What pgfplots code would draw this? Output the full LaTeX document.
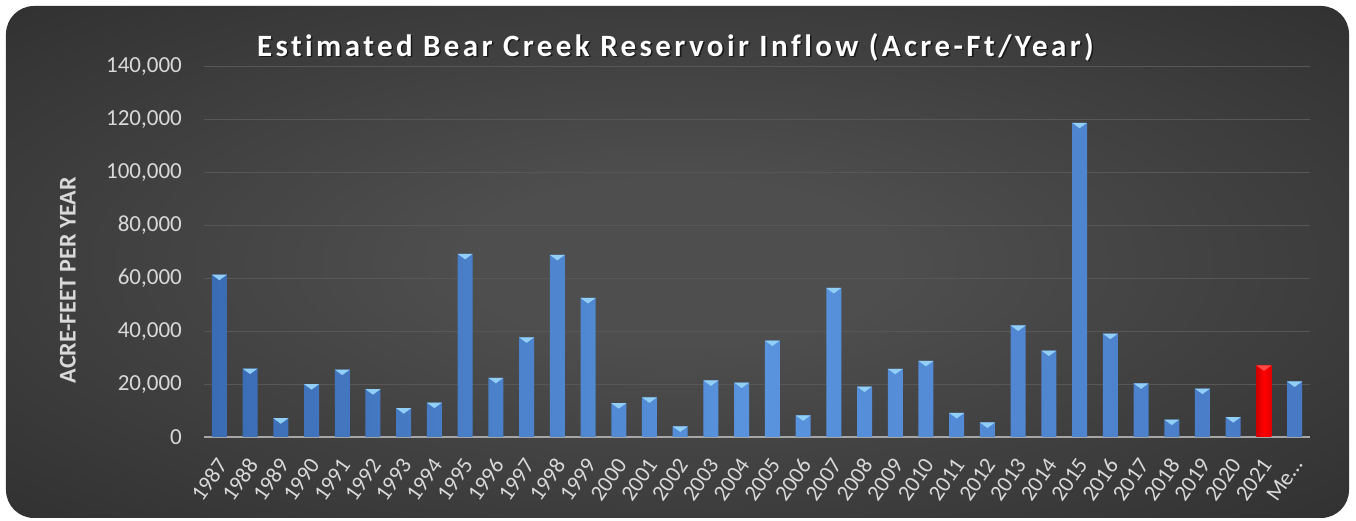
\documentclass[border=0pt]{standalone}
\usepackage{pgfplots}
\pgfplotsset{compat=1.18}
\usepackage{fontspec}
\setmainfont{Carlito}
\newfontfamily\titlefont[LetterSpace=11, Ligatures=NoCommon]{Carlito}
\definecolor{bgin}{HTML}{4E4E4E}
\definecolor{bgout}{HTML}{222222}
\definecolor{barL}{HTML}{3A6CB4}
\definecolor{barM}{HTML}{5A94DE}
\definecolor{barR}{HTML}{4779C4}
\definecolor{tri}{HTML}{92CFF7}
\definecolor{redL}{HTML}{D00000}
\definecolor{redM}{HTML}{FF0000}
\definecolor{redR}{HTML}{E00000}
\definecolor{redtri}{HTML}{FF4A4A}
\definecolor{txt}{HTML}{D9D9D9}
\definecolor{gridc}{HTML}{575757}
\definecolor{axc}{HTML}{A6A6A6}
\pgfdeclareradialshading{bgshade}{\pgfpoint{0bp}{0bp}}{color(0bp)=(bgin); color(8bp)=(bgin); color(50bp)=(bgout); color(75bp)=(bgout)}
\pgfdeclareplotmark{bevtri}{%
  \pgfpathmoveto{\pgfqpoint{-7.5pt}{0pt}}%
  \pgfpathlineto{\pgfqpoint{7.5pt}{0pt}}%
  \pgfpathlineto{\pgfqpoint{0pt}{-5.5pt}}%
  \pgfpathclose\pgfusepathqfill}
\begin{document}
\begin{tikzpicture}[x=1pt,y=1pt]
\fill[white] (-204,-84) rectangle (1152,437);
\shade[shading=bgshade, rounded corners=28pt] (-198,-81) rectangle (1145,431);
\begin{axis}[
  at={(0,0)}, anchor=south west,
  scale only axis, width=1106pt, height=370pt,
  xmin=-0.5, xmax=35.5, ymin=0, ymax=140000,
  axis x line*=bottom, axis y line*=left,
  x axis line style={draw=axc, line width=2pt, -},
  y axis line style={draw=none},
  major tick length=0pt,
  xtick={0,...,35},
  xticklabels={1987,1988,1989,1990,1991,1992,1993,1994,1995,1996,1997,1998,1999,2000,2001,2002,2003,2004,2005,2006,2007,2008,2009,2010,2011,2012,2013,2014,2015,2016,2017,2018,2019,2020,2021,Me…},
  ytick={0,20000,40000,60000,80000,100000,120000,140000},
  yticklabels={0,{20,000},{40,000},{60,000},{80,000},{100,000},{120,000},{140,000}},
  scaled y ticks=false,
  ymajorgrids, grid style={draw=gridc, line width=1pt},
  yticklabel style={font=\fontsize{23}{27}\selectfont, text=txt, anchor=east, inner sep=0pt, xshift=-22pt},
  xticklabel style={font=\fontsize{22.5}{27}\selectfont, text=txt, inner sep=0pt, xshift=3pt, yshift=-24pt, rotate=55, anchor=east},
  ylabel={ACRE-FEET PER YEAR},
  ylabel style={at={(axis description cs:-0.123,0.424)}, anchor=center, font=\bfseries\fontsize{24}{28}\selectfont, text=txt},
  clip=false,
]
\addplot[ybar, bar width=15pt, bar shift=0pt, draw=none, left color=barL, right color=barR, middle color=barM] coordinates {
(0,61400) (1,25900) (2,7100) (3,20000) (4,25500) (5,18100) (6,10900) (7,13000) (8,69300) (9,22400)
(10,37700) (11,68900) (12,52600) (13,12800) (14,15000) (15,4000) (16,21400) (17,20600) (18,36500) (19,8200)
(20,56400) (21,19100) (22,25800) (23,28800) (24,9100) (25,5500) (26,42200) (27,32700) (28,118900) (29,39100)
(30,20300) (31,6600) (32,18300) (33,7500) (35,21000)};
\addplot[ybar, bar width=15pt, bar shift=0pt, draw=none, left color=redL, right color=redR, middle color=redM] coordinates {(34,27100)};
\addplot[only marks, mark=bevtri, mark options={fill=tri, draw=none}] coordinates {
(0,61400) (1,25900) (2,7100) (3,20000) (4,25500) (5,18100) (6,10900) (7,13000) (8,69300) (9,22400)
(10,37700) (11,68900) (12,52600) (13,12800) (14,15000) (15,4000) (16,21400) (17,20600) (18,36500) (19,8200)
(20,56400) (21,19100) (22,25800) (23,28800) (24,9100) (25,5500) (26,42200) (27,32700) (28,118900) (29,39100)
(30,20300) (31,6600) (32,18300) (33,7500) (35,21000)};
\addplot[only marks, mark=bevtri, mark options={fill=redtri, draw=none}] coordinates {(34,27100)};
\node[text=black, opacity=0.6, font=\titlefont\bfseries\fontsize{31}{36}\selectfont] at (axis description cs:0.4277,1.0500) {Estimated Bear Creek Reservoir Inflow (Acre-Ft/Year)};
\node[text=white, font=\titlefont\bfseries\fontsize{31}{36}\selectfont] at (axis description cs:0.4263,1.0541) {Estimated Bear Creek Reservoir Inflow (Acre-Ft/Year)};
\end{axis}
\end{tikzpicture}
\end{document}
